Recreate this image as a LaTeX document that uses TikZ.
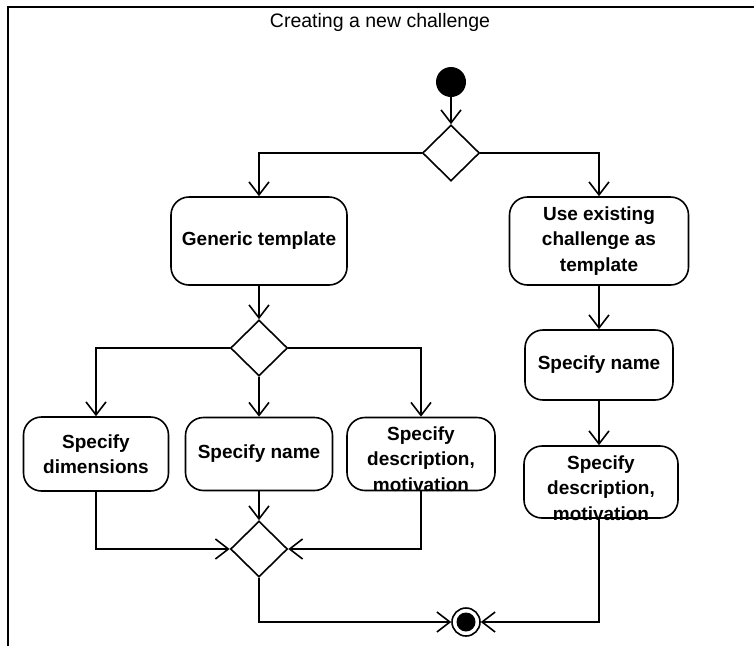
\documentclass[tikz,border=0pt]{standalone}
\usepackage{fontspec}
\setmainfont{Liberation Sans}
\usetikzlibrary{arrows.meta,shapes.geometric}

\begin{document}
\begin{tikzpicture}[x=1pt,y=-1pt,
  every node/.style={font=\fontsize{19}{25.5}\selectfont\bfseries},
  line/.style={line width=1.6pt},
  arr/.style={line, -{Straight Barb[length=13pt,width=20pt]}},
  act/.style={draw, line width=1.6pt, rounded corners=18pt, align=center, inner sep=1pt},
  txt/.style={align=center, inner sep=0pt},
  dec/.style={draw, line width=1.6pt, diamond, aspect=1, inner sep=0pt, minimum width=57pt, minimum height=56pt},
]
\useasboundingbox (0,0) rectangle (754,646);

% activity frame
\draw[line] (8,646) -- (8,7) -- (754,7);
\node[font=\fontsize{19.5}{24}\selectfont] (title) at (380,22) {Creating a new challenge};

% start and first decision
\node[circle, fill, inner sep=0pt, minimum size=30pt] (init) at (451,82) {};
\node[dec] (d1) at (451,153) {};

% left branch
\node[act, minimum width=176pt, minimum height=88pt] (gen) at (259,241) {Generic template};
\node[dec] (d2) at (259,348) {};
\node[act, minimum width=145pt, minimum height=74pt] (dims) at (96,454) {Specify\\dimensions};
\node[act, minimum width=147pt, minimum height=73pt] (name) at (259,454) {Specify name};
\node[act, minimum width=148pt, minimum height=73pt] (desc) at (421,454) {};
\node[txt] (desctext) at (421,459) {Specify\\description,\\motivation};
\node[dec] (d3) at (259,549) {};

% right branch
\node[act, minimum width=179pt, minimum height=88pt] (use) at (599,241) {Use existing\\challenge as\\template};
\node[act, minimum width=148pt, minimum height=70pt] (rname) at (599,365) {Specify name};
\node[act, minimum width=154pt, minimum height=72pt] (rdesc) at (601,482) {};
\node[txt] (rdesctext) at (601,488) {Specify\\description,\\motivation};
\coordinate (rdescout) at (rname.south |- rdesc.south);

% final node
\node[circle, draw, fill=white, line width=1.6pt, inner sep=0pt, minimum size=28pt] (fin) at (466,622) {};
\fill (fin.center) circle (9.5pt);

% flows
\draw[arr] (init) -- (d1);
\draw[arr] (d1.west) -| (gen.north);
\draw[arr] (d1.east) -| (use.north);
\draw[arr] (gen) -- (d2);
\draw[arr] (d2.west) -| (dims.north);
\draw[arr] (d2.south) -- (name.north);
\draw[arr] (d2.east) -| (desc.north);
\draw[arr] (dims.south) |- (d3.west);
\draw[arr] (name.south) -- (d3.north);
\draw[arr] (desc.south) |- (d3.east);
\draw[arr] (use) -- (rname);
\draw[arr] (rname.south) -- (rname.south |- rdesc.north);
\draw[arr] (d3.south) |- (fin.west);
\draw[arr] (rdescout) |- (fin.east);
\end{tikzpicture}
\end{document}
